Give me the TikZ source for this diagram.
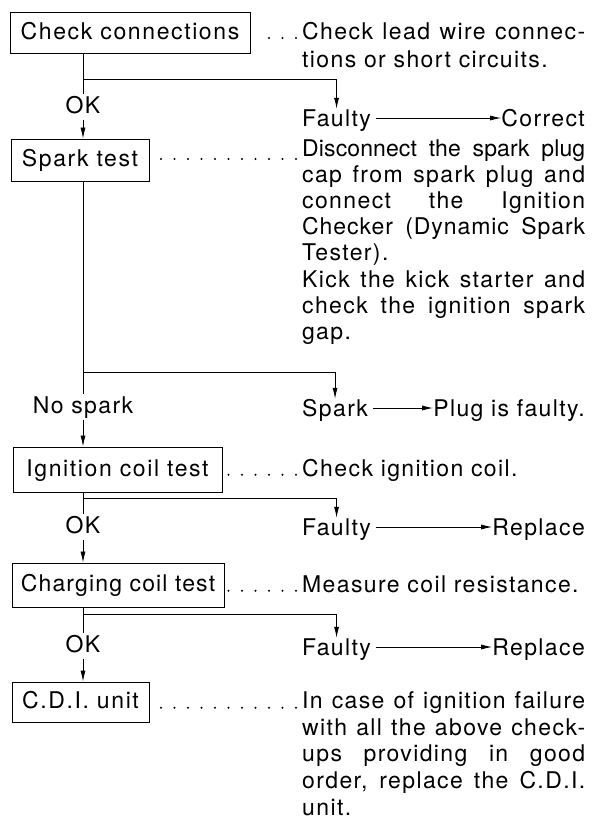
\documentclass[tikz,border=0pt]{standalone}
\usepackage{fontspec}
\setmainfont{TeX Gyre Heros}
\newfontfamily\bxf[LetterSpace=7]{TeX Gyre Heros}
\newfontfamily\bxfc[LetterSpace=5]{TeX Gyre Heros}
\newfontfamily\txf[LetterSpace=6]{TeX Gyre Heros}
\newfontfamily\txfm[LetterSpace=4]{TeX Gyre Heros}
\newfontfamily\txft[LetterSpace=0.5]{TeX Gyre Heros}
\usetikzlibrary{arrows.meta}
\newcommand{\jl}[1]{\makebox[283pt][s]{#1}}
\newcommand{\leaderdots}[2]{\foreach \i in {0,...,#1} \fill ({296-13.5*\i},#2) circle (1.15pt);}
\begin{document}
\begin{tikzpicture}[x=1pt,y=-1pt,
  every node/.style={font=\txf\fontsize{23}{27}\selectfont},
  stepbox/.style={draw, line width=0.9pt, inner sep=0pt, text height=17pt, text depth=4pt,
    font=\bxf\fontsize{23}{27}\selectfont},
  lbl/.style={inner sep=1.5pt, text height=17pt, text depth=5pt},
  side/.style={inner sep=0pt, text height=17pt, text depth=5pt},
  para/.style={anchor=base west, inner sep=0pt},
  ln/.style={line width=0.8pt},
  arr/.style={line width=0.8pt, -{Latex[length=11pt,width=5pt]}}]
\useasboundingbox (0,0) rectangle (595,828);

% boxes
\node[stepbox, minimum width=240pt, minimum height=41pt] (cc) at (130,32.5) {Check connections};
\node[stepbox, minimum width=138pt, minimum height=42pt] (st) at (80,160) {Spark test};
\node[stepbox, minimum width=209pt, minimum height=45pt] (ic) at (117.5,469.5) {Ignition coil test};
\node[stepbox, minimum width=212pt, minimum height=44pt, font=\bxfc\fontsize{23}{27}\selectfont] (chg) at (118,585) {Charging coil test};
\node[stepbox, minimum width=137pt, minimum height=40pt] (cdi) at (80.5,702) {C.D.I. unit};

% labels on the spine
\node[lbl, anchor=base] (ok1) at (83,113) {OK};
\node[lbl, anchor=base] (ns) at (83,413) {No spark};
\node[lbl, anchor=base] (ok2) at (83,533) {OK};
\node[lbl, anchor=base] (ok3) at (83,652) {OK};

% branch points
\coordinate (b1) at (83,79);
\coordinate (b2) at (83,372);
\coordinate (b3) at (83,498);
\coordinate (b4) at (83,614);

% side results
\node[side, anchor=base west] (f1) at (302,126) {Faulty};
\node[side, anchor=base east] (r1) at (585,126) {Correct};
\node[side, anchor=base west] (sp) at (302,416) {Spark};
\node[side, anchor=base east] (pl) at (585,416) {Plug is faulty.};
\node[side, anchor=base west] (f2) at (302,535) {Faulty};
\node[side, anchor=base east] (r2) at (585,535) {Replace};
\node[side, anchor=base west] (f3) at (302,655) {Faulty};
\node[side, anchor=base east] (r3) at (585,655) {Replace};

% spine
\draw[ln] (cc.south -| ok1) -- (ok1.north);
\draw[arr] (ok1.south) -- (st.north -| ok1);
\draw[ln] (st.south -| ns) -- (ns.north);
\draw[arr] (ns.south) -- (ic.north -| ns);
\draw[ln] (ic.south -| ok2) -- (ok2.north);
\draw[arr] (ok2.south) -- (chg.north -| ok2);
\draw[ln] (chg.south -| ok3) -- (ok3.north);
\draw[arr] (ok3.south) -- (cdi.north -| ok3);

% branches
\draw[arr] (b1) -| (f1.north);
\draw[arr] (b2) -| (sp.north);
\draw[arr] (b3) -| (f2.north);
\draw[arr] (b4) -| (f3.north);

% horizontal result arrows
\draw[arr] ([xshift=5pt,yshift=2pt]f1.east) -- ([yshift=2pt]r1.west);
\draw[arr] ([xshift=5pt,yshift=2pt]sp.east) -- ([yshift=2pt]pl.west);
\draw[arr] ([xshift=5pt,yshift=2pt]f2.east) -- ([yshift=2pt]r2.west);
\draw[arr] ([xshift=5pt,yshift=2pt]f3.east) -- ([yshift=2pt]r3.west);

% leader dots
\leaderdots{2}{38}
\leaderdots{10}{159}
\leaderdots{5}{474.8}
\leaderdots{5}{590.8}
\leaderdots{10}{707.8}

% descriptions
\node[para] (d1a) at (302,39) {\jl{Check lead wire connec-}};
\node[para] (d1b) at (302,67) {tions or short circuits.};

\node[para] (d2a) at (302,156) {\jl{\txft Disconnect the spark plug}};
\node[para] (d2b) at (302,182.2) {\jl{cap from spark plug and}};
\node[para] (d2c) at (302,208.4) {\jl{connect the Ignition}};
\node[para] (d2d) at (302,234.6) {\jl{\txfm Checker (Dynamic Spark}};
\node[para] (d2e) at (302,260.8) {Tester).};
\node[para] (d2f) at (302,287) {\jl{Kick the kick starter and}};
\node[para] (d2g) at (302,313.2) {\jl{check the ignition spark}};
\node[para] (d2h) at (302,339.4) {gap.};

\node[para] (d3) at (302,476) {Check ignition coil.};
\node[para] (d4) at (302,592) {Measure coil resistance.};

\node[para] (d5a) at (302,708.5) {\jl{In case of ignition failure}};
\node[para] (d5b) at (302,735.2) {\jl{with all the above check-}};
\node[para] (d5c) at (302,761.9) {\jl{ups providing in good}};
\node[para] (d5d) at (302,788.6) {\jl{order, replace the C.D.I.}};
\node[para] (d5e) at (302,815.3) {unit.};
\end{tikzpicture}
\end{document}
